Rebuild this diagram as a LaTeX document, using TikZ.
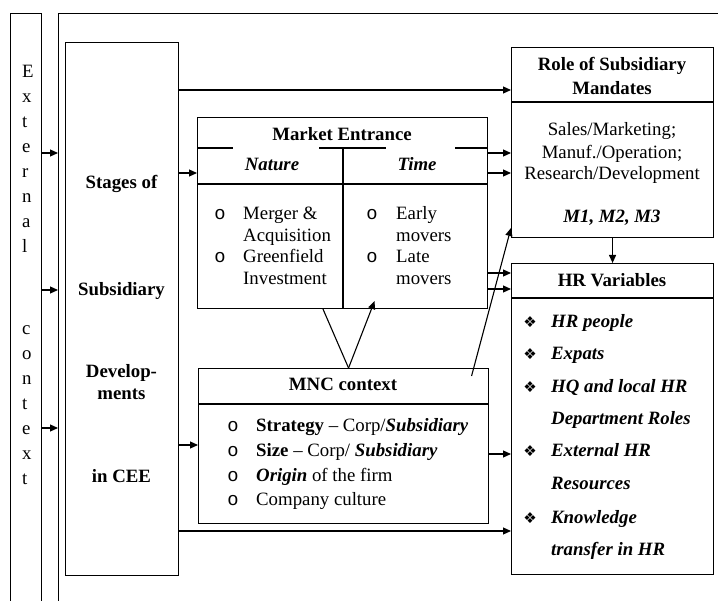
\documentclass[tikz,border=0pt]{standalone}
\usepackage{fontspec}
\setmainfont{Liberation Serif}
\newfontfamily\bulletfont{Liberation Mono}
\newfontfamily\dingfont{DejaVu Sans}
\usetikzlibrary{arrows.meta}

\tikzset{
  box/.style={draw, line width=1.1pt, inner sep=0pt, anchor=north west},
  rule/.style={line width=1.1pt},
  link/.style={line width=1.1pt, -{Triangle[length=8pt,width=7pt]}},
  txt/.style={anchor=base, inner sep=0pt, font=\fontsize{18.8}{22}\selectfont},
  txtl/.style={txt, anchor=base west},
  hd/.style={txt, font=\fontsize{18.8}{22}\selectfont\bfseries},
  hdi/.style={txt, font=\fontsize{18.8}{22}\selectfont\bfseries\itshape},
}

\newcommand{\obul}{{\bulletfont o}}
\newcommand{\dbul}{{\dingfont\fontsize{15}{15}\selectfont ❖}}

\begin{document}
\begin{tikzpicture}[x=1pt, y=-1pt]
    \useasboundingbox (0,0) rectangle (718,601);

    % outer frames
    \node[box, minimum width=31pt, minimum height=620pt] (ext) at (10,13) {};
    \node[box, minimum width=700pt, minimum height=620pt] (frame) at (58,13) {};
    \foreach \ch/\y [count=\i] in {E/78, x/103, t/128, e/153, r/178, n/203, a/228, l/253,
                                   c/335, o/360, n/385, t/410, e/435, x/460, t/485}
        \node[txtl] (ch\i) at (22,\y) {\ch};

    % stages
    \node[box, minimum width=113pt, minimum height=533pt] (stages) at (65,42) {};
    \foreach \t/\y [count=\i] in {Stages of/189, Subsidiary/296, Develop-/378, ments/400, in CEE/483}
        \node[hd] (st\i) at (121.5,\y) {\t};

    % market entrance
    \node[box, minimum width=290pt, minimum height=191pt] (market) at (197,117) {};
    \draw[rule] (market.west |- 0,148) -- ++(36,0);
    \draw[rule] (319,148) -- (386,148);
    \draw[rule] (market.east |- 0,148) -- ++(-33,0);
    \draw[rule] (market.west |- 0,184) -- (market.east |- 0,184);
    \draw[rule] (343,148) -- (market.south -| 343,0);
    \node[hd] (mtitle) at (342,141) {Market Entrance};
    \node[hdi] (nature) at (272,171) {Nature};
    \node[hdi] (time) at (417,171) {Time};
    \foreach \t/\y [count=\i] in {Merger \&/220, Acquisition/242, Greenfield/263, Investment/285}
        \node[txtl] (nat\i) at (243,\y) {\t};
    \foreach \t/\y [count=\i] in {Early/220, movers/242, Late/263, movers/285}
        \node[txtl] (tim\i) at (396,\y) {\t};
    \foreach \y [count=\i] in {220,263} {
        \node[txt] (natb\i) at (220,\y) {\obul};
        \node[txt] (timb\i) at (372,\y) {\obul};
    }

    % mnc context
    \node[box, minimum width=290pt, minimum height=155pt] (mnc) at (198,368) {};
    \draw[rule] (mnc.west |- 0,404) -- (mnc.east |- 0,404);
    \node[hd] (mtit) at (343,391) {MNC context};
    \node[txtl] (mnc1) at (256,432) {\textbf{Strategy} -- Corp/\textbf{\textit{Subsidiary}}};
    \node[txtl] (mnc2) at (256,457) {\textbf{Size} -- Corp/ \textbf{\textit{Subsidiary}}};
    \node[txtl] (mnc3) at (256,482) {\textbf{\textit{Origin}} of the firm};
    \node[txtl] (mnc4) at (256,506) {Company culture};
    \foreach \y [count=\i] in {432,457,482,506}
        \node[txt] (mncb\i) at (233,\y) {\obul};

    % subsidiary mandates
    \node[box, minimum width=202pt, minimum height=190pt] (role) at (511,47) {};
    \draw[rule] (role.west |- 0,102) -- (role.east |- 0,102);
    \node[hd] (rt1) at (612,71) {Role of Subsidiary};
    \node[hd] (rt2) at (612,95) {Mandates};
    \node[txt] (rl1) at (612,136) {Sales/Marketing;};
    \node[txt] (rl2) at (612,159) {Manuf./Operation;};
    \node[txt] (rl3) at (612,180) {Research/Development};
    \node[hdi] (rl4) at (612,223) {M1, M2, M3};

    % hr variables
    \node[box, minimum width=202pt, minimum height=311pt] (hr) at (511,263) {};
    \draw[rule] (hr.west |- 0,298) -- (hr.east |- 0,298);
    \node[hd] (htit) at (612,287) {HR Variables};
    \foreach \t/\y [count=\i] in {HR people/328, Expats/360, HQ and local HR/393, Department Roles/425,
                                  External HR/457, Resources/490, Knowledge/523, transfer in HR/555}
        \node[hdi, anchor=base west] (hv\i) at (551,\y) {\t};
    \foreach \y [count=\i] in {328,360,393,457,523}
        \node[txt] (hvb\i) at (530,\y) {\dbul};

    % arrows
    \foreach \y in {153,290,428}
        \draw[link] (ext.east |- 0,\y) -- (frame.west |- 0,\y);
    \draw[link] (stages.east |- 0,90) -- (role.west |- 0,90);
    \draw[link] (stages.east |- 0,173) -- (market.west |- 0,173);
    \draw[link] (stages.east |- 0,445) -- (mnc.west |- 0,445);
    \draw[link] (stages.east |- 0,531) -- (hr.west |- 0,531);
    \foreach \y in {153,173}
        \draw[link] (market.east |- 0,\y) -- (role.west |- 0,\y);
    \foreach \y in {273,289}
        \draw[link] (market.east |- 0,\y) -- (hr.west |- 0,\y);
    \draw[link] (mnc.east |- 0,454) -- (hr.west |- 0,454);
    \draw[link] (role.south) -- (hr.north);
    \draw[rule] ([xshift=5pt]mnc.north) -- (market.south -| 323,0);
    \draw[link] ([xshift=5pt]mnc.north) -- ([shift={(32,-8)}]market.south);
    \draw[link] ([shift={(128,8)}]mnc.north) -- (role.west |- 0,228);
\end{tikzpicture}
\end{document}
